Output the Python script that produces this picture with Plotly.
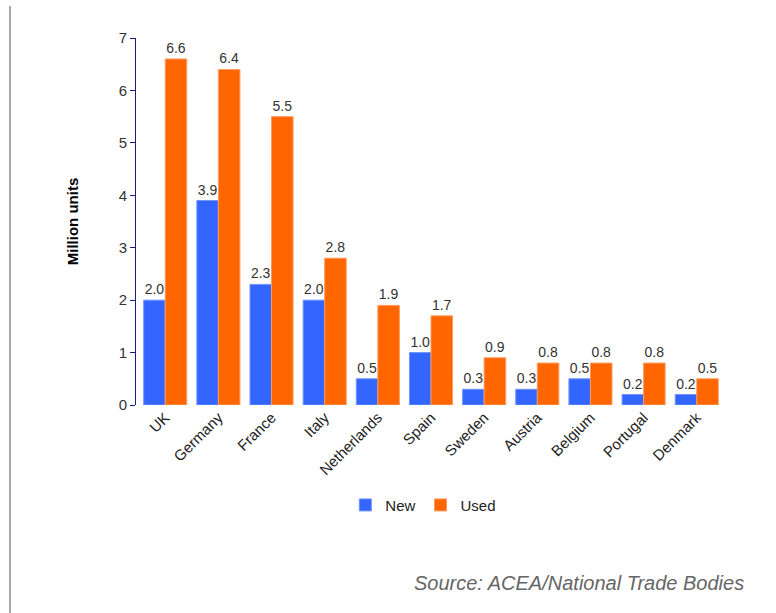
import plotly.graph_objects as go

countries = ["UK", "Germany", "France", "Italy", "Netherlands", "Spain",
             "Sweden", "Austria", "Belgium", "Portugal", "Denmark"]
new_units = [2.0, 3.9, 2.3, 2.0, 0.5, 1.0, 0.3, 0.3, 0.5, 0.2, 0.2]
used_units = [6.6, 6.4, 5.5, 2.8, 1.9, 1.7, 0.9, 0.8, 0.8, 0.8, 0.5]
y_ticks = [0, 1, 2, 3, 4, 5, 6, 7]

FONT = "Liberation Sans, Arial, Helvetica, sans-serif"

fig = go.Figure()
for name, vals, color, edge in [("New", new_units, "#3366ff", "#6f93ff"),
                                ("Used", used_units, "#ff6600", "#ff9a5c")]:
    fig.add_trace(go.Bar(
        name=name, x=countries, y=vals,
        marker=dict(color=color, line=dict(color=edge, width=1)),
        text=[f"{v:.1f}" for v in vals], textposition="outside",
        textfont=dict(family=FONT, size=14, color="#333333"),
        cliponaxis=False,
    ))

fig.update_layout(
    width=776, height=613,
    margin=dict(l=136, r=50, t=38, b=208),
    paper_bgcolor="white", plot_bgcolor="white",
    barmode="group", bargap=0.19, bargroupgap=0,
    font=dict(family=FONT, size=14, color="#333333"),
    showlegend=True,
    legend=dict(orientation="h", x=0.487, xanchor="center", y=-0.228, yanchor="top",
                font=dict(family=FONT, size=15, color="#222222"),
                itemwidth=30, traceorder="normal", tracegroupgap=0),
    xaxis=dict(range=[-0.55, 10.55], tickangle=-45, showline=False, ticks="",
               showgrid=False, tickfont=dict(family=FONT, size=15, color="#222222")),
    yaxis=dict(range=[0, 7], tickvals=y_ticks, showline=True, linecolor="#1a1a80",
               linewidth=1, ticks="outside", ticklen=5, tickcolor="#1a1a80",
               showgrid=False, zeroline=False,
               tickfont=dict(family=FONT, size=15, color="#333333"),
               title=dict(text="<b>Million units</b>", standoff=36,
                          font=dict(family=FONT, size=15, color="#000000"))),
)

fig.add_shape(type="line", xref="paper", yref="paper",
              x0=(10 - 136) / 590, x1=(10 - 136) / 590,
              y0=-208 / 367, y1=(405 - 6) / 367,
              line=dict(color="#a8a8a8", width=2))

fig.add_annotation(text="<i>Source: ACEA/National Trade Bodies</i>",
                   xref="paper", yref="paper", x=(746 - 136) / 590, y=-(583 - 405) / 367,
                   xanchor="right", yanchor="middle", showarrow=False,
                   font=dict(family=FONT, size=20, color="#666666"))

fig.write_html("out.html")
